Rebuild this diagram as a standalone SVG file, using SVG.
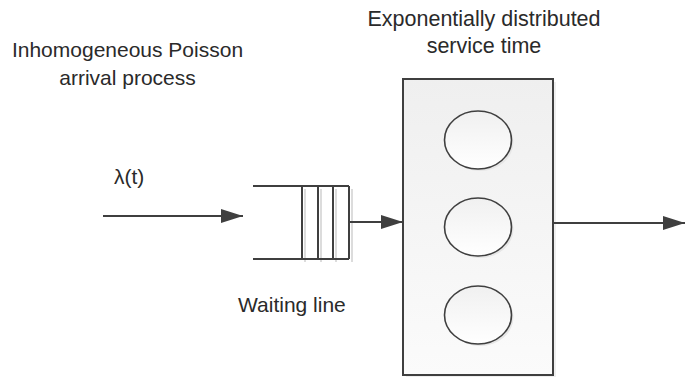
<svg xmlns="http://www.w3.org/2000/svg" width="685" height="377" viewBox="0 0 685 377">
  <defs>
    <style>
      .t { font-family: "Liberation Sans", Arial, sans-serif; font-size: 21px; fill: #2a2a2a; }
      .t2 { font-size: 21.5px; }
      .ln { stroke: #3f3f3f; stroke-width: 2; fill: none; }
      .sh { stroke: #dcdcdc; stroke-width: 2; fill: none; }
      .srv { stroke: #3f3f3f; stroke-width: 1.6; fill: url(#eg); }
    </style>
    <linearGradient id="bg" x1="0" y1="0" x2="0" y2="1">
      <stop offset="0" stop-color="#efefef"/>
      <stop offset="1" stop-color="#fbfbfb"/>
    </linearGradient>
    <linearGradient id="eg" x1="0" y1="0" x2="0" y2="1">
      <stop offset="0" stop-color="#f0f0f0"/>
      <stop offset="1" stop-color="#ffffff"/>
    </linearGradient>
    <marker id="ah" viewBox="0 0 22 14" refX="22" refY="7" markerWidth="22" markerHeight="14" markerUnits="userSpaceOnUse" orient="auto">
      <path d="M0,0 L22,7 L0,14 Z" fill="#3f3f3f"/>
    </marker>
  </defs>

  <g id="label-arrival">
    <text class="t" x="127.5" y="57" text-anchor="middle">Inhomogeneous Poisson</text>
    <text class="t" x="127.5" y="85" text-anchor="middle">arrival process</text>
  </g>
  <g id="label-service">
    <text class="t t2" x="484" y="26" text-anchor="middle">Exponentially distributed</text>
    <text class="t t2" x="484" y="53" text-anchor="middle">service time</text>
  </g>
  <g id="label-lambda">
    <text class="t" x="114" y="184">λ(t)</text>
  </g>

  <g id="queue">
    <path class="sh" d="M305,189 V262 M321,189 V262 M336,189 V262 M352,189 V262"/>
    <path class="ln" d="M253,186 H349 M253,259 H349 M302,186 V259 M318,186 V259 M333,186 V259 M349,186 V259"/>
    <text class="t" x="238" y="312">Waiting line</text>
  </g>

  <g id="server">
    <rect x="406" y="82" width="150" height="296" fill="#e4e4e4" opacity="0.6"/>
    <rect x="403" y="79" width="150" height="296" fill="url(#bg)" stroke="#3f3f3f" stroke-width="2"/>
    <ellipse cx="480" cy="142" rx="33.5" ry="29" fill="#e6e6e6"/>
    <ellipse cx="478" cy="140" rx="33.5" ry="29" class="srv"/>
    <ellipse cx="480" cy="229" rx="33.5" ry="29" fill="#e6e6e6"/>
    <ellipse cx="478" cy="227" rx="33.5" ry="29" class="srv"/>
    <ellipse cx="480" cy="317" rx="33.5" ry="29" fill="#e6e6e6"/>
    <ellipse cx="478" cy="315" rx="33.5" ry="29" class="srv"/>
  </g>

  <g id="connectors">
    <line class="ln" x1="103" y1="216" x2="243" y2="216" marker-end="url(#ah)"/>
    <line class="ln" x1="349" y1="222" x2="403" y2="222" marker-end="url(#ah)"/>
    <line class="ln" x1="553" y1="223" x2="685" y2="223" marker-end="url(#ah)"/>
  </g>
</svg>
